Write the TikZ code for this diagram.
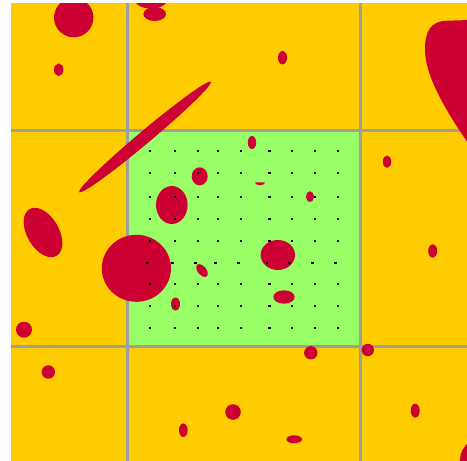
\documentclass[tikz,border=0pt]{standalone}
\usepackage{tikz}
\usetikzlibrary{calc}
\definecolor{fieldyellow}{RGB}{255,204,0}
\definecolor{patchgreen}{RGB}{153,255,102}
\definecolor{blobred}{RGB}{204,0,51}
\definecolor{linegray}{RGB}{158,158,158}

\begin{document}
\begin{tikzpicture}[
  x=1pt, y=-1pt,
  blob/.style={fill=blobred},
  gridline/.style={draw=linegray, line width=3pt},
  dot/.style={fill=black}
]
  \useasboundingbox (0,0) rectangle (467,461);
  \fill[fieldyellow] (11,3) rectangle (467,461);
  \fill[patchgreen] (127.5,130.5) rectangle (360,346.5);

  \draw[gridline] (127.5,3) -- (127.5,461);
  \draw[gridline] (360,3) -- (360,461);
  \draw[gridline] (11,130.5) -- (467,130.5);
  \draw[gridline] (11,346.5) -- (467,346.5);

  \begin{scope}
    \clip (11,3) rectangle (467,461);
    \fill[blob] (73.7,17.6) circle (19.7pt);
    \fill[blob] (151,1) ellipse [x radius=15.5pt, y radius=7.5pt];
    \fill[blob] (154.7,14) ellipse [x radius=11.3pt, y radius=7pt];
    \fill[blob] (58.7,69.7) ellipse [x radius=4.7pt, y radius=6.3pt];
    \fill[blob] (282.5,57.7) ellipse [x radius=4.5pt, y radius=6.7pt];
    \fill[blob] (470,20) -- (447,20.7) .. controls (430,21) and (425,32) .. (425,50)
      .. controls (425,75) and (445,110) .. (470,146) -- cycle;
    \fill[blob, rotate around={40:(145,137)}] (145,137) ellipse [x radius=86pt, y radius=6.3pt];
    \fill[blob, rotate around={-60:(43,232.5)}] (43,232.5) ellipse [x radius=27pt, y radius=16pt];
    \fill[blob] (252,142.5) ellipse [x radius=4.2pt, y radius=6.5pt];
    \fill[blob] (387,161.7) ellipse [x radius=4.2pt, y radius=6.2pt];
    \fill[blob] (199.7,176.3) ellipse [x radius=8pt, y radius=9pt];
    \fill[blob] (255,182.3) arc [start angle=180, end angle=360, x radius=5pt, y radius=3pt] -- cycle;
    \fill[blob] (171.8,205) ellipse [x radius=15.8pt, y radius=19pt];
    \fill[blob] (310,196.7) ellipse [x radius=4pt, y radius=5.4pt];
    \fill[blob] (136.4,268.3) ellipse [x radius=34.6pt, y radius=33.5pt];
    \fill[blob] (277.8,255) ellipse [x radius=17.2pt, y radius=15pt];
    \fill[blob, rotate around={-50:(202,270.5)}] (202,270.5) ellipse [x radius=7.5pt, y radius=4.3pt];
    \fill[blob] (432.7,251) ellipse [x radius=4.5pt, y radius=6.7pt];
    \fill[blob] (284,297) ellipse [x radius=10.7pt, y radius=6.7pt];
    \fill[blob] (175.5,304) ellipse [x radius=4.5pt, y radius=6.5pt];
    \fill[blob] (24,329.7) circle (8pt);
    \fill[blob] (310.8,352.8) circle (6.7pt);
    \fill[blob] (367.8,350) circle (6.2pt);
    \fill[blob] (48.3,372) circle (6.7pt);
    \fill[blob] (415.2,410.7) ellipse [x radius=4.5pt, y radius=7pt];
    \fill[blob] (233,412) circle (7.8pt);
    \fill[blob] (183.3,430.2) ellipse [x radius=4.3pt, y radius=6.8pt];
    \fill[blob] (294.2,439.3) ellipse [x radius=7.8pt, y radius=4pt];
    \fill[blob] (490,460) ellipse [x radius=30pt, y radius=25pt];
  \end{scope}

  \foreach \y in {151,173,197,219,241,284,306,328}
    \foreach \x in {150,175,198,218,241,269.5,292,315,338}
      \fill[dot] (\x-1.4,\y-1.4) rectangle ++(2.8,2.8);
  \foreach \x in {150,175,198,218,241,269.5,292,315,338}
    \fill[dot] (\x-3.9,263-1.4) rectangle ++(2.8,2.8);
\end{tikzpicture}
\end{document}
